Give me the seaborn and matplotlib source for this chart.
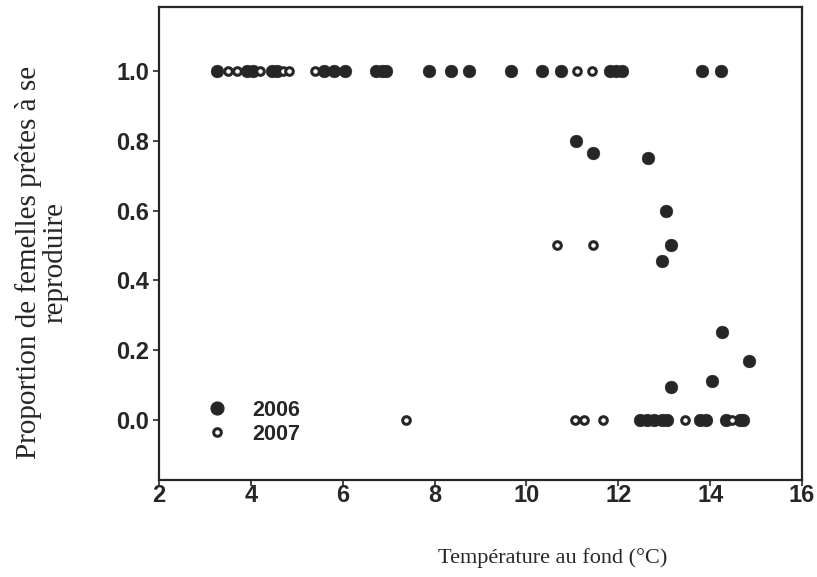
import matplotlib
matplotlib.use("Agg")
import matplotlib.pyplot as plt
import seaborn as sns
import pandas as pd
from matplotlib.lines import Line2D

# ---- data ----
temp_2006 = [3.26, 3.91, 4.04, 4.45, 4.58, 5.60, 5.82, 6.04, 6.73, 6.85, 6.95,
             7.88, 8.36, 8.75, 9.67, 10.34, 10.75, 11.83, 11.95, 12.08, 13.83, 14.24,
             11.07, 11.45, 12.64, 13.04, 13.14, 12.95, 14.25, 14.85, 14.05, 13.14,
             12.48, 12.62, 12.77, 12.95, 13.05, 13.78, 13.92, 14.35, 14.65, 14.72]
prop_2006 = [1.0] * 22 + [0.80, 0.766, 0.75, 0.60, 0.50, 0.456, 0.253, 0.17, 0.113, 0.094] + [0.0] * 10

temp_2007 = [3.50, 3.69, 4.19, 4.69, 4.84, 5.39, 11.10, 11.43,
             10.67, 11.45,
             7.38, 11.05, 11.25, 11.66, 13.45, 14.48]
prop_2007 = [1.0] * 8 + [0.5, 0.5] + [0.0] * 6

years = ["2006", "2007"]
x_ticks = [2, 4, 6, 8, 10, 12, 14, 16]
y_ticks = [0.0, 0.2, 0.4, 0.6, 0.8, 1.0]

df06 = pd.DataFrame({"temp": temp_2006, "prop": prop_2006, "year": years[0]})
df07 = pd.DataFrame({"temp": temp_2007, "prop": prop_2007, "year": years[1]})

sns.set_style("ticks")
plt.rcParams["font.family"] = ["Liberation Sans", "DejaVu Sans"]

fig = plt.figure(figsize=(8.17, 5.77), dpi=100)
ax = fig.add_axes([159 / 817, 1 - 480 / 577, (802 - 159) / 817, (480 - 7) / 577])

ink = "#262626"
sns.scatterplot(data=df06, x="temp", y="prop", ax=ax, s=85, color=ink,
                edgecolor=ink, linewidth=0.3, marker="o", legend=False, zorder=3)
sns.scatterplot(data=df07, x="temp", y="prop", ax=ax, s=30, facecolor="white",
                edgecolor=ink, linewidth=2.2, marker="o", legend=False, zorder=4)

ax.set_xlim(2, 16)
ax.set_ylim(-0.172, 1.183)
ax.set_xticks(x_ticks)
ax.set_yticks(y_ticks)
ax.set_xticklabels([str(t) for t in x_ticks])
ax.set_yticklabels([f"{t:.1f}" for t in y_ticks])
for lab in ax.get_xticklabels() + ax.get_yticklabels():
    lab.set_fontweight("bold")
    lab.set_fontsize(17)
    lab.set_color(ink)
ax.tick_params(axis="both", direction="out", length=4, width=1.2, colors=ink,
               labelcolor=ink)
ax.tick_params(axis="x", pad=-1)
ax.tick_params(axis="y", pad=3)

for sp in ax.spines.values():
    sp.set_visible(True)
    sp.set_linewidth(1.6)
    sp.set_color(ink)

serif = ["Liberation Serif", "DejaVu Serif"]
ax.set_xlabel("Température au fond (°C)", family=serif, fontsize=16, color=ink)
ax.set_ylabel("Proportion de femelles prêtes à se\nreproduire", family=serif,
              fontsize=21, color=ink, linespacing=1.0)
ax.xaxis.set_label_coords(0.612, -0.145)
ax.yaxis.set_label_coords(-0.141, 0.46)

handles = [
    Line2D([], [], marker="o", linestyle="none", markersize=9.2,
           markerfacecolor=ink, markeredgecolor=ink, label=years[0]),
    Line2D([], [], marker="o", linestyle="none", markersize=5.5,
           markerfacecolor="white", markeredgecolor=ink, markeredgewidth=2.2,
           label=years[1]),
]
leg = ax.legend(handles=handles, loc="lower left", bbox_to_anchor=(0.026, 0.034),
                frameon=False, handletextpad=0.66, labelspacing=0.12,
                prop={"weight": "bold", "size": 15.5})
for t in leg.get_texts():
    t.set_color(ink)

fig.savefig("out.png", dpi=100)
